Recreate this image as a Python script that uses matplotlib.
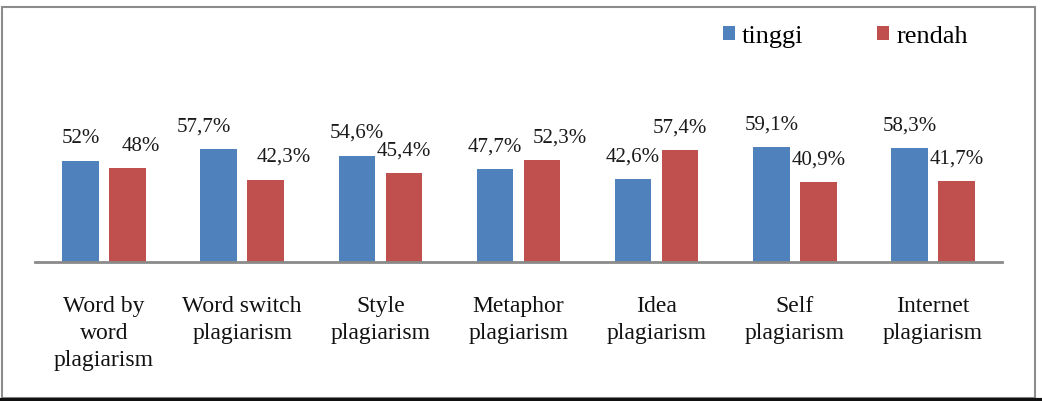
import matplotlib
matplotlib.use("Agg")
import matplotlib.pyplot as plt
import numpy as np
from matplotlib.patches import Rectangle

plt.rcParams['font.family'] = 'serif'
plt.rcParams['font.serif'] = ['Liberation Serif', 'DejaVu Serif']

categories = ["Word by\nword\nplagiarism", "Word switch\nplagiarism", "Style\nplagiarism",
              "Metaphor\nplagiarism", "Idea\nplagiarism", "Self\nplagiarism", "Internet\nplagiarism"]
tinggi = [52.0, 57.7, 54.6, 47.7, 42.6, 59.1, 58.3]
rendah = [48.0, 42.3, 45.4, 52.3, 57.4, 40.9, 41.7]
tinggi_labels = ["52%", "57,7%", "54,6%", "47,7%", "42,6%", "59,1%", "58,3%"]
rendah_labels = ["48%", "42,3%", "45,4%", "52,3%", "57,4%", "40,9%", "41,7%"]

# label horizontal nudges in pixels (styling)
tinggi_dx = [0, -15, 0, 0, 0, 0, 0]
rendah_dx = [13, 18, 0, 18, 0, 0, 0]

W, H = 1042, 402
fig = plt.figure(figsize=(W / 100, H / 100), dpi=100)

base_y = 263
px_per = 1.95
ymax = 70
ax = fig.add_axes([35 / W, (H - base_y) / H, 967 / W, ymax * px_per / H])
ax.set_ylim(0, ymax)
ax.set_xlim(-0.5, len(categories) - 0.5)

x = np.arange(len(categories))
bw = 0.265
off = 0.17
blue = "#4F81BD"
red = "#C0504D"
ax.bar(x - off, tinggi, bw, color=blue, label="tinggi")
ax.bar(x + off, rendah, bw, color=red, label="rendah")

for i in range(len(categories)):
    ax.annotate(tinggi_labels[i], (x[i] - off, tinggi[i]), xytext=(tinggi_dx[i], 23),
                textcoords="offset pixels", ha="center", va="center", fontsize=15, color="#1a1a1a")
    ax.annotate(rendah_labels[i], (x[i] + off, rendah[i]), xytext=(rendah_dx[i], 23),
                textcoords="offset pixels", ha="center", va="center", fontsize=15, color="#1a1a1a")

for s in ["top", "right", "left"]:
    ax.spines[s].set_visible(False)
ax.spines["bottom"].set_color("#8a8a8a")
ax.spines["bottom"].set_linewidth(2)
ax.set_yticks([])
ax.set_xticks(x)
ax.set_xticklabels(categories, fontsize=17, linespacing=1.38, color="#111111")
ax.tick_params(axis="x", length=0, pad=24)
for t in ax.get_xticklabels():
    t.set_verticalalignment("top")

fig.legend(loc="center left", bbox_to_anchor=(723 / W, 1 - 37 / H), ncol=2, frameon=False,
           fontsize=19, handlelength=0.45, handleheight=0.45, handletextpad=0.27,
           columnspacing=2.8, borderpad=0, borderaxespad=0)

# outer frame
fig.patches.append(Rectangle((2 / W, 3 / H), 1033 / W, 391 / H, transform=fig.transFigure,
                             fill=False, edgecolor="#8c8c8c", linewidth=1.5))
fig.add_artist(plt.Line2D([0, 1], [1.5 / H, 1.5 / H], transform=fig.transFigure,
                          color="#111111", linewidth=3))

fig.savefig("out.png", dpi=100)
